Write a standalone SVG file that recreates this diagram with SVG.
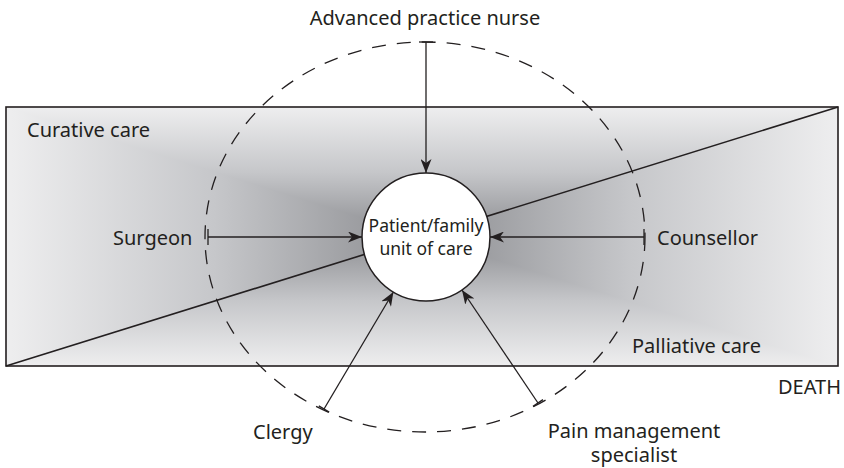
<svg xmlns="http://www.w3.org/2000/svg" width="844" height="468" viewBox="0 0 844 468">
  <defs>
    <style>
      .lbl { font-family: "Noto Sans", "Open Sans", "Liberation Sans", sans-serif; font-size: 20px; fill: #231f20; }
      .inner { font-size: 17.5px; }
      .mid { text-anchor: middle; }
      .edge { fill: none; stroke: #231f20; stroke-width: 1.6; }
      .conn { fill: none; stroke: #231f20; stroke-width: 1.3; }
      .tick { fill: none; stroke: #231f20; stroke-width: 1.3; }
    </style>
    <!-- horizontal shading: light at both ends, dark at the middle -->
    <linearGradient id="gSide" gradientUnits="userSpaceOnUse" x1="6" y1="0" x2="838" y2="0">
      <stop offset="0" stop-color="#eeeeef"/>
      <stop offset="0.25" stop-color="#c6c7ca"/>
      <stop offset="0.5" stop-color="#8b8c90"/>
      <stop offset="0.75" stop-color="#c6c7ca"/>
      <stop offset="1" stop-color="#eeeeef"/>
    </linearGradient>
    <linearGradient id="gTop" gradientUnits="userSpaceOnUse" x1="0" y1="107" x2="0" y2="236.5">
      <stop offset="0" stop-color="#eeeeef"/>
      <stop offset="0.5" stop-color="#c6c7ca"/>
      <stop offset="1" stop-color="#8b8c90"/>
    </linearGradient>
    <linearGradient id="gBot" gradientUnits="userSpaceOnUse" x1="0" y1="366" x2="0" y2="236.5">
      <stop offset="0" stop-color="#eeeeef"/>
      <stop offset="0.5" stop-color="#c6c7ca"/>
      <stop offset="1" stop-color="#8b8c90"/>
    </linearGradient>
    <marker id="arrow" markerUnits="userSpaceOnUse" markerWidth="15" markerHeight="11" refX="14" refY="5.5" orient="auto">
      <path d="M0,0 L14,5.5 L0,11 L4,5.5 Z" fill="#231f20"/>
    </marker>
  </defs>

  <!-- care band: rectangular shading, sides underneath, top and bottom wedges over it -->
  <g id="band">
    <rect x="6" y="107" width="832" height="259" fill="url(#gSide)"/>
    <polygon points="6,107 838,107 422,236.5" fill="url(#gTop)"/>
    <polygon points="6,366 838,366 422,236.5" fill="url(#gBot)"/>
    <rect x="6" y="107" width="832" height="259" class="edge"/>
    <line x1="6" y1="366" x2="838" y2="107" class="edge"/>
    <text class="lbl" x="27" y="137">Curative care</text>
    <text class="lbl" x="632" y="353">Palliative care</text>
    <text class="lbl" x="778" y="394">DEATH</text>
  </g>

  <!-- team boundary -->
  <g id="team-ring">
    <ellipse cx="425" cy="237" rx="220" ry="195" fill="none" stroke="#231f20" stroke-width="1.3" stroke-dasharray="14 11"/>
  </g>

  <g id="connectors">
    <line x1="426" y1="42" x2="426" y2="173" class="conn" marker-end="url(#arrow)"/>
    <line x1="419" y1="42" x2="433" y2="42" class="tick"/>
    <line x1="208" y1="237" x2="362" y2="237" class="conn" marker-end="url(#arrow)"/>
    <line x1="208" y1="229" x2="208" y2="245" class="tick"/>
    <line x1="644" y1="237" x2="490" y2="237" class="conn" marker-end="url(#arrow)"/>
    <line x1="644" y1="229" x2="644" y2="245" class="tick"/>
    <line x1="324" y1="409" x2="393.4" y2="292" class="conn" marker-end="url(#arrow)"/>
    <line x1="318.8" y1="405.9" x2="329.2" y2="412.1" class="tick"/>
    <line x1="538" y1="403" x2="462" y2="290" class="conn" marker-end="url(#arrow)"/>
    <line x1="533" y1="406.4" x2="543" y2="399.6" class="tick"/>
  </g>

  <g id="patient">
    <circle cx="426" cy="237" r="64" fill="#ffffff" stroke="#231f20" stroke-width="1.5"/>
    <text class="lbl inner mid" x="426" y="232">Patient/family<tspan x="426" dy="23">unit of care</tspan></text>
  </g>

  <g id="apn">
    <text class="lbl mid" x="425" y="25">Advanced practice nurse</text>
  </g>
  <g id="surgeon">
    <text class="lbl" x="113" y="245">Surgeon</text>
  </g>
  <g id="counsellor">
    <text class="lbl" x="657" y="245">Counsellor</text>
  </g>
  <g id="clergy">
    <text class="lbl" x="253" y="439">Clergy</text>
  </g>
  <g id="pain">
    <text class="lbl mid" x="634" y="438">Pain management<tspan x="634" dy="24">specialist</tspan></text>
  </g>
</svg>
